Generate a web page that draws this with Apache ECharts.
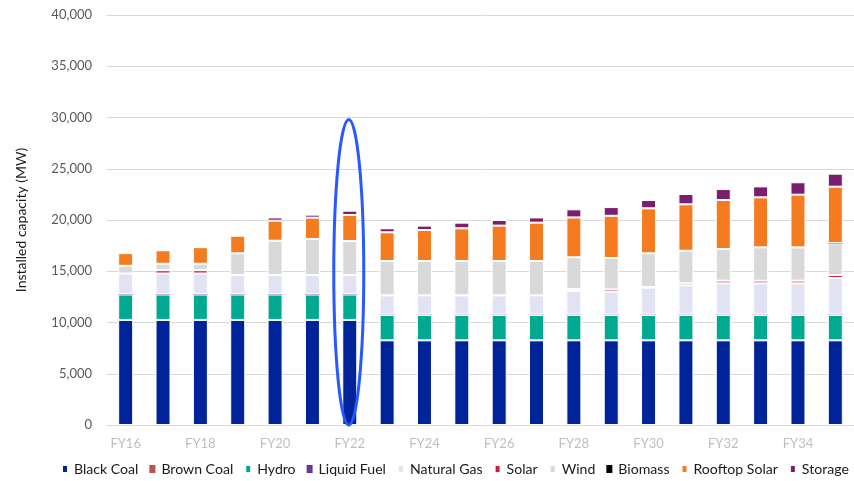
<!DOCTYPE html>
<html>
<head>
<meta charset="utf-8">
<script src="https://cdn.jsdelivr.net/npm/echarts@6/dist/echarts.min.js"></script>
<style>
  html, body { margin: 0; padding: 0; background: #fff; }
  #chart { width: 854px; height: 481px; }
</style>
</head>
<body>
<div id="chart"></div>
<script>
// Installed capacity by fuel type, FY16 to FY35 (MW)
const categories = ['FY16','FY17','FY18','FY19','FY20','FY21','FY22','FY23','FY24','FY25',
                    'FY26','FY27','FY28','FY29','FY30','FY31','FY32','FY33','FY34','FY35'];

const blackCoal    = [10250,10250,10250,10250,10250,10250,10250,8260,8260,8260,8260,8260,8260,8260,8260,8260,8260,8260,8260,8260];
const brownCoal    = [0,0,0,0,0,0,0,0,0,0,0,0,0,0,0,0,0,0,0,0];
const hydro        = [2480,2480,2480,2480,2480,2480,2480,2480,2480,2480,2480,2480,2480,2480,2480,2480,2480,2480,2480,2480];
const liquidFuel   = [40,40,40,40,40,40,40,40,40,40,40,40,40,40,40,40,40,40,40,40];
const naturalGas   = [2010,2010,2010,1860,1860,1860,1860,1870,1870,1870,1870,1870,2290,2230,2620,2850,3040,3040,3040,3560];
const solar        = [0,320,320,0,0,0,0,0,0,0,0,0,200,220,50,190,260,260,260,290];
const wind         = [750,630,630,2120,3350,3520,3320,3350,3350,3350,3350,3350,3090,3060,3300,3180,3090,3250,3250,3090];
const biomass      = [0,0,0,0,0,0,0,0,0,0,0,0,0,0,0,0,0,0,0,30];
const rooftopSolar = [1240,1320,1620,1720,1950,2080,2540,2800,3020,3190,3450,3740,3890,4120,4390,4530,4780,4880,5140,5500];
const storage      = [0,0,0,0,320,290,420,390,430,550,550,510,790,850,810,1010,1070,1070,1210,1270];

const yTicks = [0, 5000, 10000, 15000, 20000, 25000, 30000, 35000, 40000];

// Year picked out with the outline, and the capacity height it reaches
const highlightYear = 'FY22';
const highlightTop = 29800;

const seriesDefs = [
  ['Black Coal',    blackCoal,    '#00239a'],
  ['Brown Coal',    brownCoal,    '#c0504d'],
  ['Hydro',         hydro,        '#00a98f'],
  ['Liquid Fuel',   liquidFuel,   '#7030a0'],
  ['Natural Gas',   naturalGas,   '#e1e3f2'],
  ['Solar',         solar,        '#d41a3c'],
  ['Wind',          wind,         '#d9d9d9'],
  ['Biomass',       biomass,      '#000000'],
  ['Rooftop Solar', rooftopSolar, '#f47b20'],
  ['Storage',       storage,      '#7a1f6e']
];

const FONT = 'Lato, "Noto Sans", sans-serif';

const chart = echarts.init(document.getElementById('chart'), null, { renderer: 'canvas' });

chart.setOption({
  animation: false,
  backgroundColor: '#ffffff',
  grid: { left: 107, top: 15, width: 753, height: 410, containLabel: false },
  legend: {
    bottom: 0,
    left: 56,
    width: 850,
    icon: 'rect',
    itemWidth: 6,
    itemHeight: 8,
    itemGap: 11,
    textStyle: { fontFamily: FONT, fontSize: 14.1, color: '#1a1a1a', padding: [0, 0, 0, 1] },
    data: seriesDefs.map(d => d[0])
  },
  xAxis: {
    type: 'category',
    data: categories,
    axisLine: { show: true, lineStyle: { color: '#d9d9d9', width: 1 } },
    axisTick: { show: false },
    axisLabel: { interval: 1, color: '#bfbfbf', fontFamily: FONT, fontSize: 13, margin: 12 }
  },
  yAxis: {
    type: 'value',
    min: 0,
    max: yTicks[yTicks.length - 1],
    interval: yTicks[1] - yTicks[0],
    name: 'Installed capacity (MW)',
    nameLocation: 'middle',
    nameRotate: 90,
    nameGap: 79,
    nameTextStyle: { fontFamily: FONT, fontSize: 14, color: '#1a1a1a' },
    axisLine: { show: false },
    axisTick: { show: false },
    splitLine: { lineStyle: { color: '#d9d9d9', width: 1 } },
    axisLabel: {
      color: '#595959', fontFamily: FONT, fontSize: 13, margin: 15,
      formatter: v => v.toLocaleString('en-US')
    }
  },
  series: seriesDefs.map(([name, values, color]) => ({
    name,
    type: 'bar',
    stack: 'capacity',
    barWidth: 15,
    data: values,
    itemStyle: { color, borderColor: '#ffffff', borderWidth: values.every(v => v < 100) ? 0 : 1 }
  }))
});

// Outline around the highlighted year, placed through the axis scales
function drawOutline() {
  const bottom = chart.convertToPixel({ gridIndex: 0 }, [highlightYear, 0]);
  const top = chart.convertToPixel({ gridIndex: 0 }, [highlightYear, highlightTop]);
  chart.setOption({
    graphic: [{
      type: 'ellipse',
      shape: { cx: bottom[0] - 1, cy: (bottom[1] + top[1]) / 2, rx: 15, ry: (bottom[1] - top[1]) / 2 },
      style: { fill: 'none', stroke: '#2858ff', lineWidth: 3 },
      z: 100
    }]
  });
}
drawOutline();
</script>
</body>
</html>
